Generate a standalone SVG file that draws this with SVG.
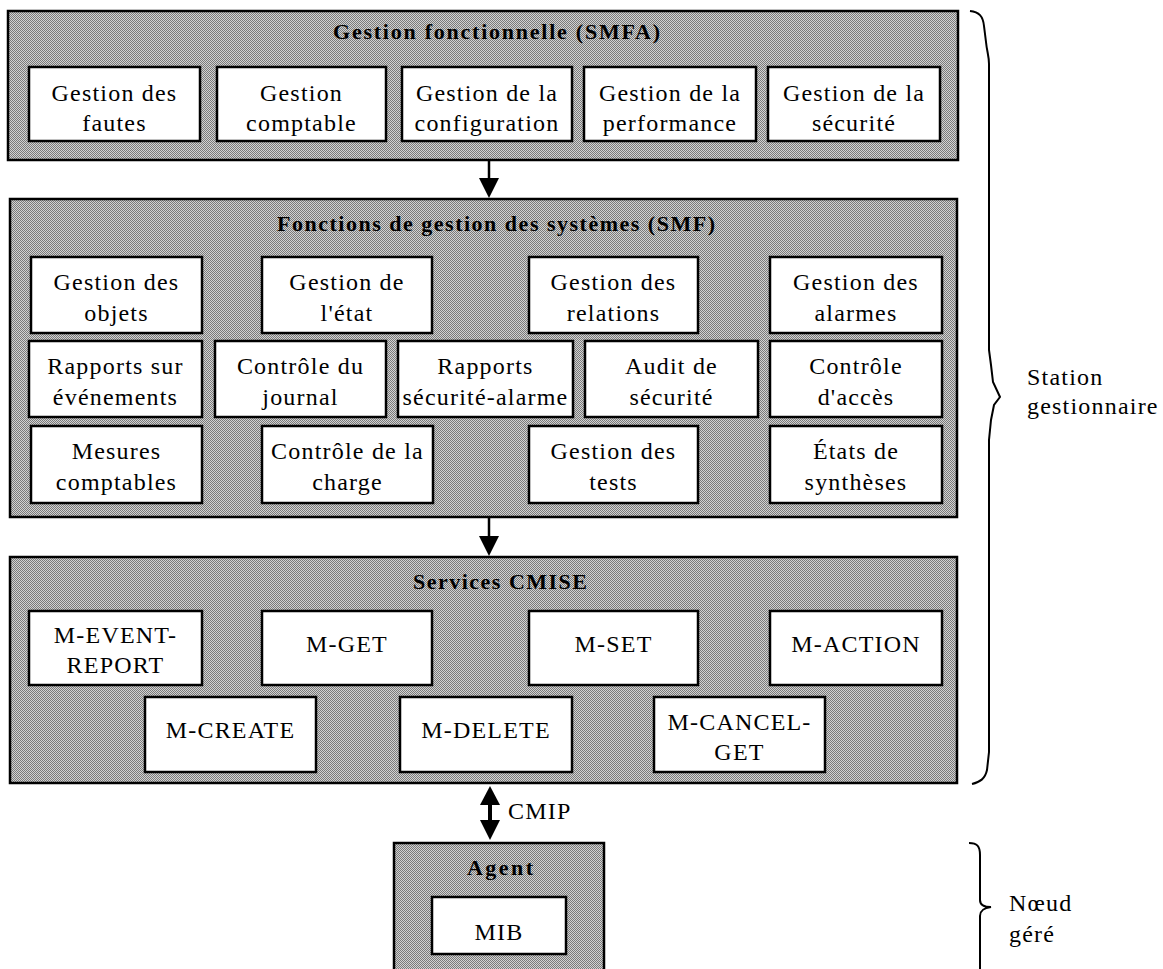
<svg xmlns="http://www.w3.org/2000/svg" width="1163" height="969" viewBox="0 0 1163 969">
  <defs>
    <!-- halftone grey used as the panel background -->
    <pattern id="dither" width="2" height="2" patternUnits="userSpaceOnUse">
      <rect width="2" height="2" fill="#d2d2d2"/>
      <rect width="1" height="1" fill="#7a7a7a"/>
      <rect x="1" y="1" width="1" height="1" fill="#7a7a7a"/>
    </pattern>
  </defs>
  <style>
    .panel { fill: url(#dither); stroke: #000; stroke-width: 2.5; }
    .box { fill: #fff; stroke: #000; stroke-width: 2.5; }
    .lbl { font-family: "Liberation Serif", "Times New Roman", serif; font-size: 24px; letter-spacing: 1.2px; text-anchor: middle; fill: #000; }
    .ttl { font-family: "Liberation Serif", "Times New Roman", serif; font-size: 22px; font-weight: bold; fill: #000; }
    .side { font-family: "Liberation Serif", "Times New Roman", serif; font-size: 24px; letter-spacing: 1.2px; fill: #000; }
    .wire { stroke: #000; stroke-width: 2.5; fill: none; }
    .head { fill: #000; }
    .brace { stroke: #000; stroke-width: 2; fill: none; }
  </style>
  <rect width="1163" height="969" fill="#fff"/>

  <!-- SMFA layer -->
  <g id="smfa">
    <rect class="panel" x="8" y="11" width="950" height="149"/>
    <text class="ttl" x="333" y="39" textLength="327" lengthAdjust="spacing">Gestion fonctionnelle (SMFA)</text>
  </g>
  <g id="gestion-fautes">
    <rect class="box" x="29" y="67" width="171" height="74"/>
    <text class="lbl" x="114.5" y="101">Gestion des</text>
    <text class="lbl" x="114.5" y="131">fautes</text>
  </g>
  <g id="gestion-comptable">
    <rect class="box" x="217" y="67" width="169" height="74"/>
    <text class="lbl" x="301.5" y="101">Gestion</text>
    <text class="lbl" x="301.5" y="131">comptable</text>
  </g>
  <g id="gestion-configuration">
    <rect class="box" x="402" y="67" width="170" height="74"/>
    <text class="lbl" x="487" y="101">Gestion de la</text>
    <text class="lbl" x="487" y="131">configuration</text>
  </g>
  <g id="gestion-performance">
    <rect class="box" x="584" y="67" width="172" height="74"/>
    <text class="lbl" x="670" y="101">Gestion de la</text>
    <text class="lbl" x="670" y="131">performance</text>
  </g>
  <g id="gestion-securite">
    <rect class="box" x="768" y="67" width="172" height="74"/>
    <text class="lbl" x="854" y="101">Gestion de la</text>
    <text class="lbl" x="854" y="131">sécurité</text>
  </g>

  <!-- SMF layer -->
  <g id="smf">
    <rect class="panel" x="10" y="199" width="947" height="318"/>
    <text class="ttl" x="277" y="231" textLength="438" lengthAdjust="spacing">Fonctions de gestion des systèmes (SMF)</text>
  </g>
  <g id="gestion-objets">
    <rect class="box" x="31" y="257" width="171" height="76"/>
    <text class="lbl" x="116.5" y="290">Gestion des</text>
    <text class="lbl" x="116.5" y="321">objets</text>
  </g>
  <g id="gestion-etat">
    <rect class="box" x="262" y="257" width="170" height="76"/>
    <text class="lbl" x="347" y="290">Gestion de</text>
    <text class="lbl" x="347" y="321">l'état</text>
  </g>
  <g id="gestion-relations">
    <rect class="box" x="529" y="257" width="169" height="76"/>
    <text class="lbl" x="613.5" y="290">Gestion des</text>
    <text class="lbl" x="613.5" y="321">relations</text>
  </g>
  <g id="gestion-alarmes">
    <rect class="box" x="770" y="257" width="172" height="76"/>
    <text class="lbl" x="856" y="290">Gestion des</text>
    <text class="lbl" x="856" y="321">alarmes</text>
  </g>
  <g id="rapports-evenements">
    <rect class="box" x="29" y="341" width="173" height="76"/>
    <text class="lbl" x="115.5" y="374">Rapports sur</text>
    <text class="lbl" x="115.5" y="405">événements</text>
  </g>
  <g id="controle-journal">
    <rect class="box" x="215" y="341" width="171" height="76"/>
    <text class="lbl" x="300.5" y="374">Contrôle du</text>
    <text class="lbl" x="300.5" y="405">journal</text>
  </g>
  <g id="rapports-securite-alarme">
    <rect class="box" x="398" y="341" width="175" height="76"/>
    <text class="lbl" x="485.5" y="374">Rapports</text>
    <text class="lbl" x="485.5" y="405">sécurité-alarme</text>
  </g>
  <g id="audit-securite">
    <rect class="box" x="585" y="341" width="173" height="76"/>
    <text class="lbl" x="671.5" y="374">Audit de</text>
    <text class="lbl" x="671.5" y="405">sécurité</text>
  </g>
  <g id="controle-acces">
    <rect class="box" x="770" y="341" width="172" height="76"/>
    <text class="lbl" x="856" y="374">Contrôle</text>
    <text class="lbl" x="856" y="405">d'accès</text>
  </g>
  <g id="mesures-comptables">
    <rect class="box" x="31" y="426" width="171" height="77"/>
    <text class="lbl" x="116.5" y="459">Mesures</text>
    <text class="lbl" x="116.5" y="490">comptables</text>
  </g>
  <g id="controle-charge">
    <rect class="box" x="262" y="426" width="171" height="77"/>
    <text class="lbl" x="347.5" y="459">Contrôle de la</text>
    <text class="lbl" x="347.5" y="490">charge</text>
  </g>
  <g id="gestion-tests">
    <rect class="box" x="529" y="426" width="169" height="77"/>
    <text class="lbl" x="613.5" y="459">Gestion des</text>
    <text class="lbl" x="613.5" y="490">tests</text>
  </g>
  <g id="etats-syntheses">
    <rect class="box" x="770" y="426" width="172" height="77"/>
    <text class="lbl" x="856" y="459">États de</text>
    <text class="lbl" x="856" y="490">synthèses</text>
  </g>

  <!-- CMISE layer -->
  <g id="cmise">
    <rect class="panel" x="10" y="557" width="947" height="226"/>
    <text class="ttl" x="413" y="589" textLength="174" lengthAdjust="spacing">Services CMISE</text>
  </g>
  <g id="m-event-report">
    <rect class="box" x="29" y="611" width="173" height="74"/>
    <text class="lbl" x="115.5" y="643">M-EVENT-</text>
    <text class="lbl" x="115.5" y="673">REPORT</text>
  </g>
  <g id="m-get">
    <rect class="box" x="262" y="611" width="170" height="74"/>
    <text class="lbl" x="347" y="652">M-GET</text>
  </g>
  <g id="m-set">
    <rect class="box" x="529" y="611" width="169" height="74"/>
    <text class="lbl" x="613.5" y="652">M-SET</text>
  </g>
  <g id="m-action">
    <rect class="box" x="770" y="611" width="172" height="74"/>
    <text class="lbl" x="856" y="652">M-ACTION</text>
  </g>
  <g id="m-create">
    <rect class="box" x="145" y="697" width="171" height="75"/>
    <text class="lbl" x="230.5" y="738">M-CREATE</text>
  </g>
  <g id="m-delete">
    <rect class="box" x="400" y="697" width="172" height="75"/>
    <text class="lbl" x="486" y="738">M-DELETE</text>
  </g>
  <g id="m-cancel-get">
    <rect class="box" x="654" y="697" width="171" height="75"/>
    <text class="lbl" x="739.5" y="730">M-CANCEL-</text>
    <text class="lbl" x="739.5" y="760">GET</text>
  </g>

  <!-- managed node -->
  <g id="agent">
    <rect class="panel" x="394" y="843" width="210" height="132"/>
    <text class="ttl" x="467" y="875" textLength="66" lengthAdjust="spacing">Agent</text>
  </g>
  <g id="mib">
    <rect class="box" x="432" y="897" width="134" height="57"/>
    <text class="lbl" x="499" y="940">MIB</text>
  </g>

  <!-- connectors -->
  <g id="connectors">
    <line class="wire" x1="489" y1="160" x2="489" y2="180"/>
    <polygon class="head" points="479,178 499,178 489,198"/>
    <line class="wire" x1="489" y1="517" x2="489" y2="537"/>
    <polygon class="head" points="479,536 499,536 489,556"/>
    <line x1="490" y1="803" x2="490" y2="822" stroke="#000" stroke-width="4"/>
    <polygon class="head" points="480,805 500,805 490,786"/>
    <polygon class="head" points="480,820 500,820 490,840"/>
    <text class="side" x="508" y="819">CMIP</text>
  </g>

  <!-- side braces -->
  <g id="station-gestionnaire">
    <path class="brace" d="M970 11 C979 12 983 16 984 26 L986 42 C987 52 989 56 989 64 L989 350 L991 365 L993 382 L1000 397 L994 405 L991 420 L989 440 L989 752 L987 770 C985 779 980 782 972 784"/>
    <text class="side" x="1027" y="385">Station</text>
    <text class="side" x="1027" y="414">gestionnaire</text>
  </g>
  <g id="noeud-gere">
    <path class="brace" d="M969 843 C977 843 980 846 980 855 L980 900 C980 905 984 907 991 907 C984 908 980 910 980 916 L980 972"/>
    <text class="side" x="1009" y="911">Nœud</text>
    <text class="side" x="1009" y="942">géré</text>
  </g>
</svg>
